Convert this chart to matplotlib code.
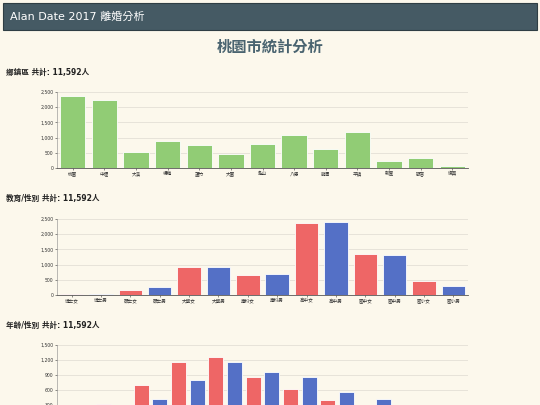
import matplotlib
matplotlib.use("Agg")
import matplotlib.pyplot as plt
from matplotlib.patches import Rectangle

plt.rcParams['font.family'] = ['DejaVu Sans', 'Noto Sans CJK TC']

districts = ["桃園","中壢","大溪","楊梅","蘆竹","大園","龜山","八德","龍潭","平鎮","新屋","觀音","復興"]
district_vals = [2360, 2240, 515, 900, 770, 460, 800, 1100, 625, 1175, 230, 340, 66]

edu_labels = ["博士女","博士男","碩士女","碩士男","大學女","大學男","專科女","專科男","高中女","高中男","國中女","國中男","國小女","國小男"]
edu_vals = [33, 44, 165, 250, 930, 920, 650, 690, 2370, 2400, 1340, 1330, 450, 285]

age_labels = ["<20女","<20男","20-24女","20-24男","25-29女","25-29男","30-34女","30-34男","35-39女","35-39男",
              "40-44女","40-44男","45-49女","45-49男","50-54女","50-54男","55-59女","55-59男","60-64女","60-64男","65+女","65+男"]
age_vals = [5, 40, 327, 120, 693, 420, 1160, 793, 1260, 1160, 867, 960, 627, 853, 393, 567, 200, 413, 90, 220, 40, 110]

BG = '#fcf8ec'
GREEN = '#91cc75'
RED = '#ee6666'
BLUE = '#5470c6'
W, H = 540, 405

fig = plt.figure(figsize=(5.4, 4.05), dpi=100, facecolor=BG)

def px_axes(x0, ytop, x1, ybot):
    return fig.add_axes([x0 / W, 1 - ybot / H, (x1 - x0) / W, (ybot - ytop) / H])

fig.patches.append(Rectangle((3 / W, 1 - 30 / H), 534 / W, 27 / H, transform=fig.transFigure,
                             facecolor='#455a64', edgecolor='#2f3e44', lw=0.8))
fig.text(10 / W, 1 - 16.5 / H, "Alan Date 2017 離婚分析", color='white', fontsize=8, va='center')
fig.text(0.5, 1 - 47 / H, "桃園市統計分析", color='#4a6470', fontsize=11, fontweight='bold', ha='center', va='center',
         family=['Noto Sans CJK TC'])

def chart(ytop, ybot, labels, vals, colors, ymax, step, title, title_y, show_x=True):
    fig.text(6 / W, 1 - title_y / H, title, fontsize=5.5, fontweight='bold', va='center', color='#222')
    ax = px_axes(57, ytop, 468, ybot)
    ax.set_facecolor(BG)
    x = range(len(vals))
    ax.bar(x, vals, width=0.8, color=colors, edgecolor='white', linewidth=0.6)
    ax.set_xlim(-0.5, len(vals) - 0.5)
    ax.set_ylim(0, ymax)
    ax.set_yticks(range(0, ymax + 1, step))
    ax.set_yticklabels([f"{v:,}" for v in range(0, ymax + 1, step)])
    ax.set_xticks(list(x))
    ax.set_xticklabels(labels if show_x else [])
    ax.tick_params(labelsize=3.3, length=1.5, width=0.4, colors='#333', pad=1)
    ax.grid(axis='y', color='#e4e0d6', lw=0.6)
    ax.set_axisbelow(True)
    for s in ['top', 'right']:
        ax.spines[s].set_visible(False)
    ax.spines['left'].set_color('#888'); ax.spines['left'].set_linewidth(0.4)
    ax.spines['bottom'].set_color('#555'); ax.spines['bottom'].set_linewidth(0.6)
    return ax

chart(92, 168, districts, district_vals, GREEN, 2500, 500, "鄉鎮區 共計: 11,592人", 72)
chart(219, 295, edu_labels, edu_vals, [RED if i % 2 == 0 else BLUE for i in range(len(edu_vals))],
      2500, 500, "教育/性別 共計: 11,592人", 198)
chart(345, 420, age_labels, age_vals, [RED if i % 2 == 0 else BLUE for i in range(len(age_vals))],
      1500, 300, "年齡/性別 共計: 11,592人", 325, show_x=False)

fig.savefig("out.png", dpi=100, facecolor=BG)
